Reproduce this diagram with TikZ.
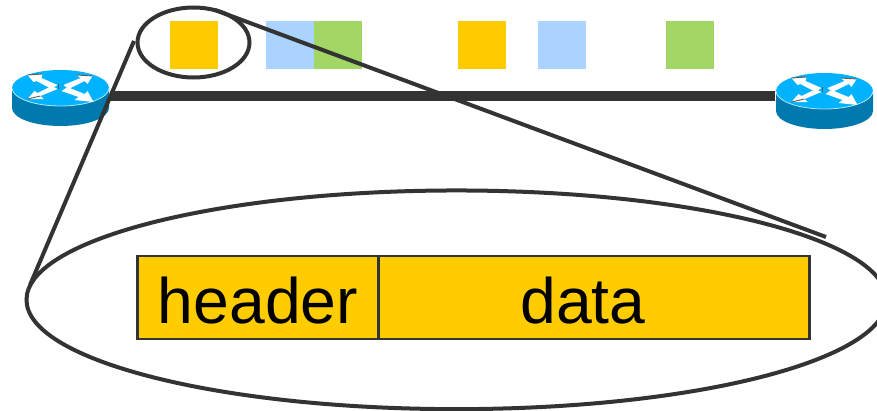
\documentclass[tikz,border=0pt]{standalone}
\usepackage{fontspec}
\usetikzlibrary{shapes.geometric}
\setmainfont{Liberation Sans}
\definecolor{pktorange}{HTML}{FFCC00}
\definecolor{pktblue}{HTML}{AAD4FF}
\definecolor{pktgreen}{HTML}{A2D765}
\definecolor{ink}{HTML}{333333}
\definecolor{routertop}{HTML}{00B2FF}
\definecolor{routerside}{HTML}{0079AE}
\tikzset{
  pkt/.style={minimum size=36pt,inner sep=0pt,outer sep=0pt,draw=none},
  field/.style={draw=ink,line width=1.8pt,fill=pktorange,inner sep=0pt,outer sep=0pt,minimum height=62.25pt},
  fieldtext/.style={font=\fontsize{48.2}{50}\selectfont,text=black,anchor=base,inner sep=0pt},
  zoomline/.style={draw=ink,line width=3pt},
  zoomring/.style={ellipse,draw=ink,line width=3pt,inner sep=0pt,outer sep=0pt},
  router/.pic={
    \fill[routerside] (-48.5,0) -- (-48.5,20) arc[start angle=180,end angle=0,x radius=48.5,y radius=18] -- (48.5,0) -- cycle;
    \fill[routertop] (0,0) ellipse[x radius=48.5,y radius=18];
    \draw[white!70!routertop,line width=.6pt] (-48.5,0) arc[start angle=180,end angle=0,x radius=48.5,y radius=18];
    \fill[white] (-3,-3) -- (-19,-10) -- (-18,-14) -- (-33,-13) -- (-27,-6) -- (-24,-7) -- (-9,1) -- cycle;
    \fill[white] (3,-3) -- (20,-10) -- (16,-13) -- (32,-12) -- (27,-4) -- (24,-7) -- (8,1) -- cycle;
    \fill[white] (-3,1) -- (-20,8) -- (-17,11) -- (-33,11) -- (-26,3) -- (-23,5) -- (-9,-2) -- cycle;
    \fill[white] (7,-1) -- (24,6) -- (27,3) -- (33,14) -- (14,12) -- (18,9) -- (1,3) -- cycle;
    \draw[ink!80,line width=.7pt] (-33,-13) -- (-18,-14) (16,-13) -- (32,-12) (-33,11) -- (-20,8) (-2,-4) -- (-2,1);
  }
}
\begin{document}
\begin{tikzpicture}[x=0.75pt,y=-0.75pt]
\useasboundingbox (0,0) rectangle (877,410);
\clip (0,0) rectangle (877,410);
% routers
\coordinate (routerL) at (60.5,88);
\coordinate (routerR) at (824.5,91);
\pic at (routerL) {router};
\pic at (routerR) {router};
% link
\coordinate (linkL) at (110,96);
\coordinate (linkR) at (775,96);
\draw[ink,line width=7.5pt] (linkL) -- (linkR);
% packets on the link
\node[pkt,fill=pktorange] (p1) at (194,45) {};
\node[pkt,fill=pktblue] (p2) at (290,45) {};
\node[pkt,fill=pktgreen] (p3) at (338,45) {};
\node[pkt,fill=pktorange] (p4) at (482,45) {};
\node[pkt,fill=pktblue] (p5) at (562,45) {};
\node[pkt,fill=pktgreen] (p6) at (690,45) {};
% zoom ellipses
\node[zoomring,minimum width=84pt,minimum height=52.5pt] (small) at (193.5,42.5) {};
\node[zoomring,minimum width=645pt,minimum height=164pt] (big) at (456.5,299.8) {};
% packet fields
\node[field,minimum width=180.75pt] (header) at (258,297.5) {};
\node[field,minimum width=323.25pt] (data) at (594,297.5) {};
\node[fieldtext] (headertext) at (258,323) {header};
\node[fieldtext] (datatext) at (583,323) {data};
% zoom lines
\coordinate (zoomA) at (134,41);
\coordinate (zoomB) at (30,285);
\coordinate (zoomC) at (215,10);
\coordinate (zoomD) at (826,237);
\draw[zoomline] (zoomA) -- (zoomB);
\draw[zoomline] (zoomC) -- (zoomD);
\end{tikzpicture}
\end{document}
